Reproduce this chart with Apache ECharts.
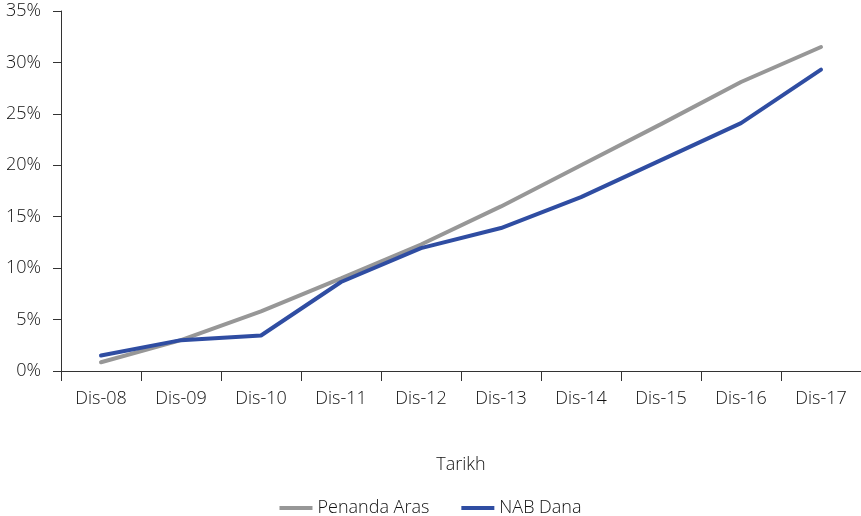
<!DOCTYPE html>
<html>
<head>
<meta charset="utf-8">
<script src="https://cdn.jsdelivr.net/npm/echarts@6/dist/echarts.min.js"></script>
<style>
  html, body { margin: 0; padding: 0; background: #fff; }
  #chart { width: 861px; height: 516px; }
</style>
</head>
<body>
<div id="chart"></div>
<script>
// Tarikh (year-end dates)
const categories = ['Dis-08', 'Dis-09', 'Dis-10', 'Dis-11', 'Dis-12', 'Dis-13', 'Dis-14', 'Dis-15', 'Dis-16', 'Dis-17'];
// Cumulative returns, in percent
const penandaAras = [0.85, 3.0, 5.8, 9.0, 12.3, 16.0, 20.0, 24.0, 28.1, 31.5];
const nabDana = [1.5, 3.0, 3.45, 8.65, 11.95, 13.9, 16.9, 20.5, 24.1, 29.3];
const yTicks = { min: 0, max: 35, interval: 5 };

const FONT = 'Open Sans';
const TEXT = { fontFamily: FONT, fontSize: 18, fontWeight: 300, color: '#111' };
const chart = echarts.init(document.getElementById('chart'));
chart.setOption({
  animation: false,
  textStyle: { fontFamily: FONT },
  grid: { left: 61, right: 0, top: 11, bottom: 145, containLabel: false },
  legend: {
    bottom: -6,
    left: 'center',
    itemWidth: 33,
    itemHeight: 4,
    itemGap: 32,
    icon: 'rect',
    textStyle: TEXT,
    data: ['Penanda Aras', 'NAB Dana']
  },
  xAxis: {
    type: 'category',
    data: categories,
    boundaryGap: true,
    name: 'Tarikh',
    nameLocation: 'middle',
    nameGap: 85,
    nameTextStyle: TEXT,
    axisLine: { lineStyle: { color: '#333', width: 1 } },
    axisTick: { show: true, alignWithLabel: false, length: 10, lineStyle: { color: '#333' } },
    axisLabel: Object.assign({ margin: 19 }, TEXT)
  },
  yAxis: {
    type: 'value',
    min: yTicks.min,
    max: yTicks.max,
    interval: yTicks.interval,
    axisLine: { show: true, lineStyle: { color: '#333', width: 1 } },
    axisTick: { show: true, length: 8, lineStyle: { color: '#333' } },
    splitLine: { show: false },
    axisLabel: Object.assign({ margin: 20, formatter: v => v + '%' }, TEXT)
  },
  series: [
    {
      name: 'Penanda Aras',
      type: 'line',
      data: penandaAras,
      symbol: 'none',
      lineStyle: { width: 4, color: '#979797', cap: 'round' },
      itemStyle: { color: '#979797' }
    },
    {
      name: 'NAB Dana',
      type: 'line',
      data: nabDana,
      symbol: 'none',
      lineStyle: { width: 4, color: '#2f4da2', cap: 'round' },
      itemStyle: { color: '#2f4da2' }
    }
  ]
});
</script>
</body>
</html>
